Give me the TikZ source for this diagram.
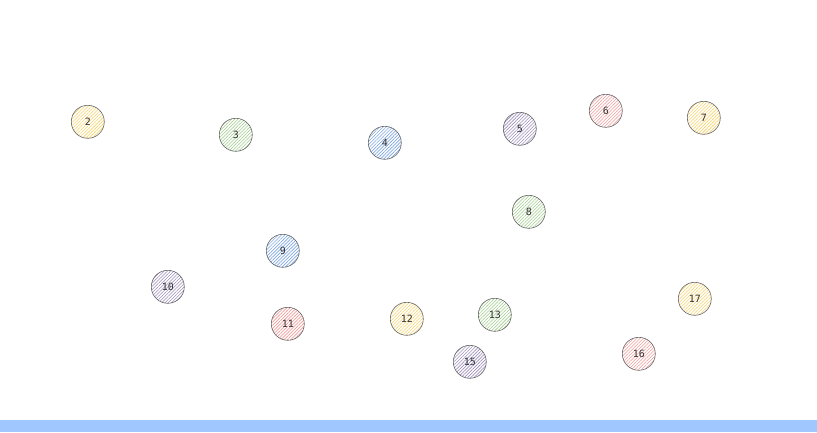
\documentclass[tikz,border=0pt]{standalone}
\usepackage{fontspec}
\setmonofont{DejaVu Sans Mono}
\usetikzlibrary{patterns.meta}
\definecolor{yh}{HTML}{F5D36B}
\definecolor{gh}{HTML}{9FCB8A}
\definecolor{bh}{HTML}{7EA6E0}
\definecolor{ph}{HTML}{9E8DBB}
\definecolor{rh}{HTML}{EE9A98}
\definecolor{barc}{HTML}{A0C8FF}
\tikzset{
  dot/.style={circle, draw=black!60, line width=0.6pt, minimum size=33pt, inner sep=0pt,
    font=\ttfamily\fontsize{10}{11}\selectfont, text=black!80},
  hy/.style={dot, pattern={Lines[angle=45,distance=2.3pt,line width=0.6pt]}, pattern color=#1},
}
\begin{document}
\begin{tikzpicture}[x=1pt,y=-1pt]
\useasboundingbox (0,0) rectangle (817,432);
\fill[barc] (0,420) rectangle (817,432);
\begin{scope}[shift={(0.8,0.8)}]
\node[hy=yh] (n2) at (87,121) {2};
\node[hy=gh] (n3) at (235,134) {3};
\node[hy=bh] (n4) at (384,142) {4};
\node[hy=ph] (n5) at (519,128) {5};
\node[hy=rh] (n6) at (605,110) {6};
\node[hy=yh] (n7) at (703,117) {7};
\node[hy=gh] (n8) at (528,211) {8};
\node[hy=bh] (n9) at (282,250) {9};
\node[hy=ph] (n10) at (167,286) {10};
\node[hy=rh] (n11) at (287,323) {11};
\node[hy=yh] (n12) at (406,318) {12};
\node[hy=gh] (n13) at (494,314) {13};
\node[hy=ph] (n15) at (469,361) {15};
\node[hy=rh] (n16) at (638,353) {16};
\node[hy=yh] (n17) at (694,298) {17};
\end{scope}
\end{tikzpicture}
\end{document}
